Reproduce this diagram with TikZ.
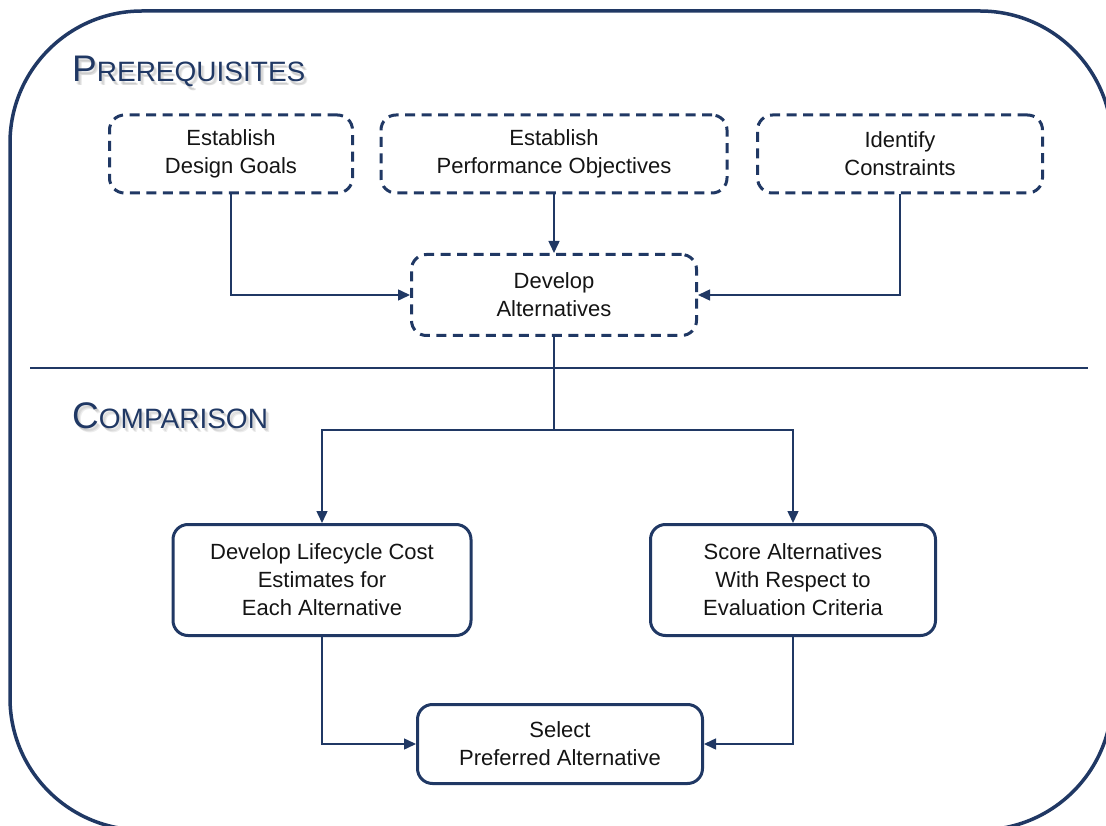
\documentclass[tikz,border=0pt]{standalone}
\usepackage{fontspec}
\setmainfont{Liberation Sans}
\usetikzlibrary{arrows.meta}
\definecolor{navy}{RGB}{32,56,100}
\definecolor{ink}{RGB}{20,20,20}

\newcommand{\headcap}[1]{{\fontsize{37}{37}\selectfont #1}}
\newcommand{\headrest}[1]{{\fontsize{28}{28}\selectfont #1}}

\tikzset{
  body/.style={font=\fontsize{22}{28}\selectfont, text=ink, align=center, inner sep=0pt},
  planbox/.style={body, draw=navy, line width=3pt, dash pattern=on 10pt off 6.5pt,
                  rounded corners=15pt},
  stagebox/.style={body, draw=navy, line width=3pt, rounded corners=15pt},
  link/.style={draw=navy, line width=1.5pt, -{Triangle[length=12pt,width=11pt]}},
  plainlink/.style={draw=navy, line width=1.5pt},
  heading/.style={anchor=base west, inner sep=0pt, text=navy},
  headshadow/.style={anchor=base west, inner sep=0pt, text=black, opacity=0.07},
}

\begin{document}
\begin{tikzpicture}[x=1pt, y=-1pt]
  \useasboundingbox (0,0) rectangle (1106,826);

  % outer frame, running past the right and bottom edges
  \begin{scope}
    \clip (0,0) rectangle (1106,826);
    \draw[navy, line width=3.5pt, rounded corners=132pt] (10,11) rectangle (1112,830);
  \end{scope}

  % divider between the two phases
  \draw[navy, line width=2.5pt] (30,368) -- (1088,368);

  % phase headings with a soft drop shadow
  \foreach \dx/\dy in {1.5/2.5,2.5/3.5,3.5/4} {
    \node[headshadow] at (72+\dx,82+\dy) {\headcap{P}\headrest{REREQUISITES}};
    \node[headshadow] at (72+\dx,428+\dy) {\headcap{C}\headrest{OMPARISON}};
  }
  \node[heading] (preq) at (72,82) {\headcap{P}\headrest{REREQUISITES}};
  \node[heading] (comp) at (72,428) {\headcap{C}\headrest{OMPARISON}};

  % prerequisite steps
  \node[planbox, minimum width=243pt, minimum height=78pt] (goals) at (231,154)
    {Establish\\Design Goals};
  \node[planbox, minimum width=346pt, minimum height=78pt] (perf) at (554,154)
    {Establish\\Performance Objectives};
  \node[planbox, minimum width=285pt, minimum height=78pt] (cons) at (900,154)
    {Identify\\Constraints};
  \node[planbox, minimum width=285pt, minimum height=81pt] (alts) at (554,295)
    {Develop\\Alternatives};

  % comparison steps
  \node[stagebox, minimum width=298pt, minimum height=111pt] (cost) at (322,580)
    {Develop Lifecycle Cost\\Estimates for\\Each Alternative};
  \node[stagebox, minimum width=285pt, minimum height=111pt] (score) at (793,580)
    {Score Alternatives\\With Respect to\\Evaluation Criteria};
  \node[stagebox, minimum width=285pt, minimum height=79pt] (select) at (560,744)
    {Select\\Preferred Alternative};

  % connectors
  \draw[link] (goals.south) |- (alts.west);
  \draw[link] (perf.south) -- (alts.north);
  \draw[link] (cons.south) |- (alts.east);

  \coordinate (split) at (554,430);
  \draw[plainlink] (alts.south) -- (split);
  \draw[link] (split) -| (cost.north);
  \draw[link] (split) -| (score.north);

  \draw[link] (cost.south) |- (select.west);
  \draw[link] (score.south) |- (select.east);
\end{tikzpicture}
\end{document}
